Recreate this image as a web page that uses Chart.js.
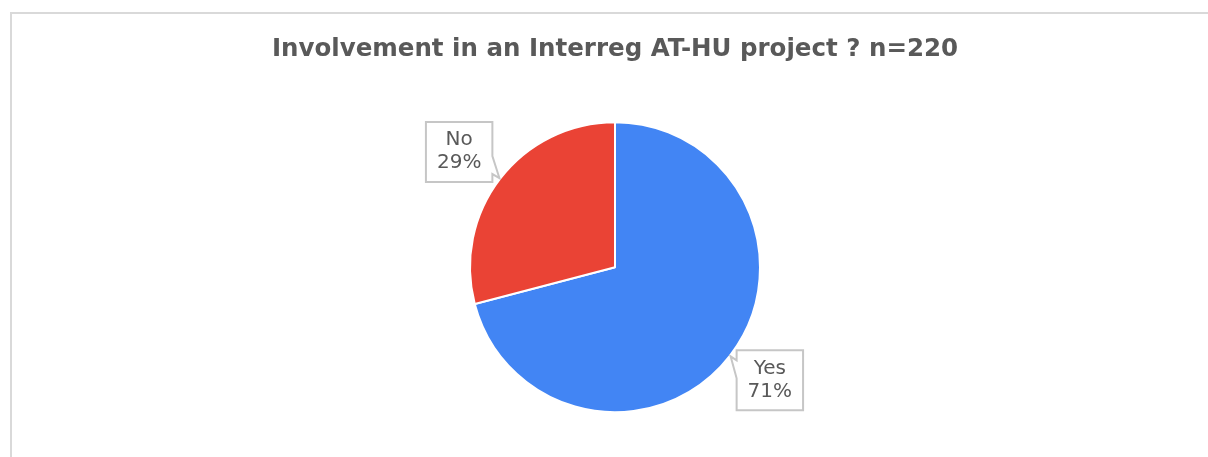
<!DOCTYPE html>
<html>
<head>
<meta charset="utf-8">
<script src="https://cdn.jsdelivr.net/npm/chart.js@4.4.1/dist/chart.umd.min.js"></script>
<style>
  html, body { margin: 0; padding: 0; background: #fff; }
  #wrap { width: 1208px; height: 457px; position: relative; }
</style>
</head>
<body>
<div id="wrap"><canvas id="myChart" width="1208" height="457"></canvas></div>
<script>
const labels = ['Yes', 'No'];
const counts = [156, 64];
const colors = ['#4285F4', '#EA4335'];
const titleText = 'Involvement in an Interreg AT-HU project ? n=220';

const textGray = '#595959';

// light frame around the chart, cut off at right and bottom like the screenshot
const framePlugin = {
    id: 'frame',
    beforeDraw(chart) {
        const c = chart.ctx;
        c.save();
        c.strokeStyle = '#d9d9d9';
        c.lineWidth = 2;
        c.strokeRect(11, 13, 1400, 600);
        c.restore();
    }
};

// callout boxes with a little pointer at each slice
const calloutPlugin = {
    id: 'callouts',
    afterDatasetsDraw(chart) {
        const c = chart.ctx;
        const meta = chart.getDatasetMeta(0);
        const total = counts.reduce((a, b) => a + b, 0);
        c.save();
        c.font = '20px "DejaVu Sans", Verdana, sans-serif';
        meta.data.forEach((arc, i) => {
            const { x, y, startAngle, endAngle, outerRadius } = arc.getProps(['x', 'y', 'startAngle', 'endAngle', 'outerRadius'], true);
            const mid = (startAngle + endAngle) / 2;
            const ax = x + Math.cos(mid) * (outerRadius + 1);
            const ay = y + Math.sin(mid) * (outerRadius + 1);
            const line1 = labels[i];
            const line2 = Math.round(counts[i] / total * 100) + '%';
            const w = Math.max(c.measureText(line1).width, c.measureText(line2).width) + 22;
            const h = 60;
            const left = Math.cos(mid) < 0;
            const up = Math.sin(mid) < 0;
            const bx = left ? ax - 7 - w : ax + 6;
            const by = up ? ay + 4 - h : ay - 6;
            const s = up ? -1 : 1;
            const edgeX = left ? bx + w : bx;
            const t1 = ay + s * 4, t2 = ay + s * 22;

            c.beginPath();
            if (left) {
                c.moveTo(bx, by);
                c.lineTo(bx + w, by);
                c.lineTo(edgeX, Math.min(t1, t2));
                c.lineTo(ax, ay);
                c.lineTo(edgeX, Math.max(t1, t2));
                c.lineTo(bx + w, by + h);
                c.lineTo(bx, by + h);
            } else {
                c.moveTo(bx, by);
                c.lineTo(bx + w, by);
                c.lineTo(bx + w, by + h);
                c.lineTo(bx, by + h);
                c.lineTo(edgeX, Math.max(t1, t2));
                c.lineTo(ax, ay);
                c.lineTo(edgeX, Math.min(t1, t2));
            }
            c.closePath();
            c.fillStyle = '#ffffff';
            c.fill();
            c.strokeStyle = '#c6c6c6';
            c.lineWidth = 2;
            c.stroke();

            c.fillStyle = textGray;
            c.textAlign = 'center';
            c.textBaseline = 'middle';
            c.fillText(line1, bx + w / 2, by + h / 2 - 12);
            c.fillText(line2, bx + w / 2, by + h / 2 + 11);
        });
        c.restore();
    }
};

const ctx = document.getElementById('myChart').getContext('2d');

const myChart = new Chart(ctx, {
    type: 'pie',
    data: {
        labels: labels,
        datasets: [{
            data: counts,
            backgroundColor: colors,
            borderColor: '#ffffff',
            borderWidth: 2
        }]
    },
    options: {
        responsive: false,
        animation: false,
        radius: 145,
        layout: {
            padding: { left: 22, right: 0, top: 0, bottom: 23 }
        },
        plugins: {
            legend: { display: false },
            tooltip: { enabled: false },
            title: {
                display: true,
                text: titleText,
                color: textGray,
                font: { family: '"DejaVu Sans", Verdana, sans-serif', size: 24.5, weight: 'bold' },
                padding: { top: 35, bottom: 36 }
            }
        }
    },
    plugins: [framePlugin, calloutPlugin]
});
</script>
</body>
</html>
